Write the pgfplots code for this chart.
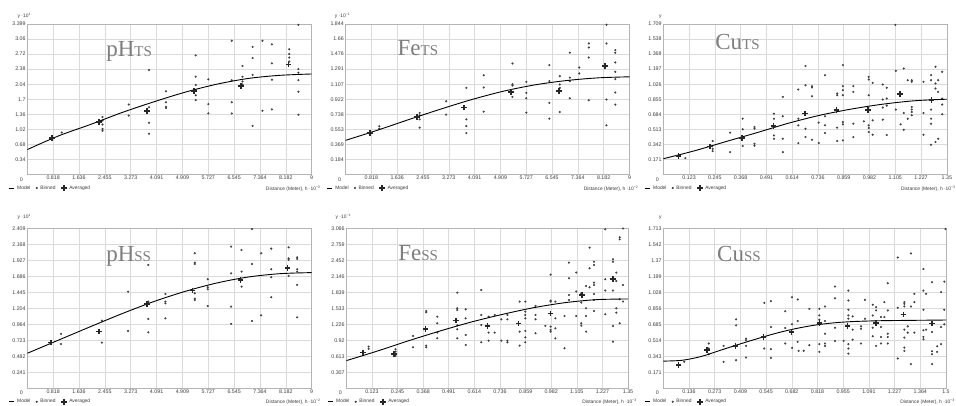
\documentclass[border=0pt]{standalone}
\usepackage{fontspec}
\setmainfont{Liberation Sans}
\newfontfamily\seriffont{Liberation Serif}
\usepackage{pgfplots}
\pgfplotsset{compat=1.18}
\definecolor{gridgray}{HTML}{DADADA}
\definecolor{bordergray}{HTML}{B4B4B4}
\definecolor{titlegray}{HTML}{7E7E7E}
\definecolor{labgray}{HTML}{3C3C3C}
\definecolor{dotgray}{HTML}{404040}
\pgfplotsset{
  panel/.style={
    scale only axis, anchor=south west,
    axis line style={draw=bordergray, line width=0.5pt},
    grid=major, major grid style={draw=gridgray, line width=0.5pt},
    major tick length=0pt,
    tick label style={font=\fontsize{5.3}{6}\selectfont, text=labgray},
    xticklabel style={inner sep=1pt, yshift=-0.6pt},
    yticklabel style={inner sep=1.5pt},
    clip mode=individual,
    xmin=0, ymin=0,
    legend columns=3,
    legend style={at={(axis description cs:0,0)}, anchor=west, xshift=-19pt, yshift=-13.5pt,
      draw=none, fill=none, inner sep=0pt, font=\fontsize{4.9}{5}\selectfont, text=labgray,
      /tikz/every even column/.append style={column sep=4.5pt},
      /tikz/every odd column/.append style={column sep=2pt}, nodes={inner sep=0.8pt}},
    legend cell align=left,
  },
  modelst/.style={line width=0.9pt, color=black, no markers, smooth,
    legend image code/.code={\draw[##1] (0pt,0pt)--(5pt,0pt);}},
  binst/.style={only marks, mark=*, mark size=0.85pt, color=dotgray,
    legend image code/.code={\draw[##1] plot coordinates {(1.5pt,0pt)};}},
  avgst/.style={only marks, mark=+, mark size=2.8pt, line width=1.6pt, color=black!85,
    legend image code/.code={\draw[##1] plot coordinates {(3pt,0pt)};}},
  x9/.style={xmax=9, xtick={0.81818,1.63636,2.45455,3.27273,4.09091,4.90909,5.72727,6.54545,7.36364,8.18182,9},
    xticklabels={0.818,1.636,2.455,3.273,4.091,4.909,5.727,6.545,7.364,8.182,9}},
  x135/.style={xmax=1.35, xtick={0.12273,0.24545,0.36818,0.49091,0.61364,0.73636,0.85909,0.98182,1.10455,1.22727,1.35},
    xticklabels={0.123,0.245,0.368,0.491,0.614,0.736,0.859,0.982,1.105,1.227,1.35}},
  x15/.style={xmax=1.5, xtick={0.13636,0.27273,0.40909,0.54545,0.68182,0.81818,0.95455,1.09091,1.22727,1.36364,1.5},
    xticklabels={0.136,0.273,0.409,0.545,0.682,0.818,0.955,1.091,1.227,1.364,1.5}},
}
% #1 y label, #2 y label shift, #3 title, #4 subscript, #5 relx, #6 rely, #7 exponent
\newcommand\extras[7]{%
  \addlegendimage{modelst}\addlegendentry{Model}
  \addlegendimage{binst}\addlegendentry{Binned}
  \addlegendimage{avgst}\addlegendentry{Averaged}
  \node[anchor=south, font=\fontsize{4.9}{5}\selectfont, text=labgray, inner sep=0pt] at (rel axis cs:0,1) [xshift=-3pt, yshift=#2] {#1};
  \node[anchor=base west, inner sep=0pt, text=titlegray] at (rel axis cs:#5,#6) {\seriffont\fontsize{23}{23}\selectfont #3{\fontsize{15}{15}\selectfont #4}};
  \node[anchor=north east, font=\fontsize{5.3}{6}\selectfont, text=labgray, inner sep=0pt] at (rel axis cs:0,0) [xshift=-4.2pt, yshift=-2.7pt] {0};
  \node[anchor=east, font=\fontsize{4.9}{5}\selectfont, text=labgray, inner sep=0pt] at (rel axis cs:1,0) [xshift=9pt, yshift=-14pt] {Distance (Meter), h ·10\textsuperscript{−#7}};
}
\begin{document}
\begin{tikzpicture}
\useasboundingbox (0pt,0pt) rectangle (956pt,406pt);
% ---------- pH TS ----------
\begin{axis}[panel, x9, at={(27.3pt,231.5pt)}, width=284.4pt, height=150.5pt, ymax=3.399,
  ytick={0.3399,0.6798,1.0197,1.3596,1.6995,2.0394,2.3793,2.7192,3.0591,3.399},
  yticklabels={0.34,0.68,1.02,1.36,1.7,2.04,2.38,2.72,3.06,3.399}]
\extras{y ·10\textsuperscript{1}}{5pt}{pH}{TS}{0.277}{0.782}{2}
\addplot[binst, forget plot] coordinates {
(0.79,0.83)(1.09,0.95)
(2.38,1.30)(2.38,1.22)(2.38,1.13)(2.38,1.03)(2.38,0.99)
(3.21,1.58)(3.21,1.33)
(3.85,2.36)(3.85,1.52)(3.85,1.17)(3.85,0.92)
(4.39,1.88)(4.39,1.63)(4.39,1.53)(4.39,1.50)
(5.33,2.69)(5.33,2.21)(5.33,2.02)(5.33,1.91)(5.33,1.79)(5.33,1.68)
(5.73,2.15)(5.73,1.59)(5.73,1.38)
(6.47,3.02)(6.47,2.13)(6.47,1.63)(6.47,1.38)
(6.81,2.45)(6.81,2.21)(6.81,2.10)(6.81,2.03)
(7.13,2.88)(7.13,2.63)(7.13,2.25)(7.13,1.10)
(7.44,3.02)(7.44,1.44)
(7.74,2.94)(7.74,2.51)(7.74,2.14)(7.74,1.47)
(8.29,2.83)(8.29,2.72)(8.29,2.64)(8.29,2.55)
(8.58,3.38)(8.58,2.38)(8.58,2.30)(8.58,2.13)(8.58,1.87)(8.58,1.35)};
\addplot[modelst, forget plot] coordinates {(0,0.563)(1,0.875)(2,1.13)(3,1.40)(4,1.64)(5,1.86)(6,2.04)(7,2.17)(8,2.24)(9,2.27)};
\addplot[avgst, forget plot] coordinates {(0.79,0.83)(2.27,1.19)(3.78,1.44)(5.28,1.89)(6.77,2.00)(8.27,2.48)};
\end{axis}
% ---------- Fe TS ----------
\begin{axis}[panel, x9, at={(345.5pt,231.5pt)}, width=284pt, height=150.5pt, ymax=1.844,
  ytick={0.1844,0.3688,0.5532,0.7376,0.922,1.1064,1.2908,1.4752,1.6596,1.844},
  yticklabels={0.184,0.369,0.553,0.738,0.922,1.107,1.291,1.476,1.66,1.844}]
\extras{y ·10\textsuperscript{−1}}{5pt}{Fe}{TS}{0.183}{0.793}{2}
\addplot[binst, forget plot] coordinates {
(1.07,0.59)(1.07,0.56)
(2.35,0.754)(2.35,0.725)(2.35,0.676)(2.35,0.574)
(3.19,0.897)(3.19,0.734)
(3.83,1.061)(3.83,0.676)(3.83,0.594)(3.83,0.508)
(4.38,1.217)(4.38,1.065)(4.38,0.770)
(5.29,1.360)(5.29,1.106)(5.29,1.09)(5.29,0.951)
(5.73,1.135)(5.73,1.000)(5.73,0.934)(5.73,0.758)
(6.46,1.340)(6.46,1.143)(6.46,0.877)(6.46,0.684)
(6.79,1.205)(6.79,1.102)(6.79,1.061)(6.79,0.766)
(7.11,1.492)(7.11,1.188)(7.11,1.143)(7.11,0.934)
(7.41,1.311)(7.41,1.238)
(7.71,1.606)(7.71,1.557)(7.71,1.434)(7.71,0.910)
(8.27,1.835)(8.27,1.606)(8.27,0.918)(8.27,0.602)
(8.55,1.524)(8.55,1.492)(8.55,1.373)(8.55,1.258)(8.55,1.168)(8.55,1.004)(8.55,0.856)};
\addplot[modelst, forget plot] coordinates {(0,0.418)(1,0.541)(2,0.672)(3,0.799)(4,0.918)(5,1.020)(6,1.098)(7,1.151)(8,1.184)(9,1.197)};
\addplot[avgst, forget plot] coordinates {(0.77,0.508)(2.27,0.705)(3.76,0.820)(5.25,1.008)(6.76,1.025)(8.23,1.332)};
\end{axis}
% ---------- Cu TS ----------
\begin{axis}[panel, x135, at={(663.3pt,231.5pt)}, width=283.5pt, height=150.5pt, ymax=1.709,
  ytick={0.1709,0.3418,0.5127,0.6836,0.8545,1.0254,1.1963,1.3672,1.5381,1.709},
  yticklabels={0.171,0.342,0.513,0.684,0.855,1.026,1.197,1.368,1.538,1.709}]
\extras{y}{5pt}{Cu}{TS}{0.183}{0.831}{3}
\addplot[binst, forget plot] coordinates {
(0.105,0.186)
(0.235,0.380)(0.235,0.292)(0.235,0.266)
(0.318,0.475)(0.318,0.254)
(0.378,0.634)(0.378,0.513)(0.378,0.323)
(0.434,0.539)(0.434,0.520)(0.434,0.349)(0.434,0.327)
(0.527,0.691)(0.527,0.634)(0.527,0.444)(0.527,0.406)
(0.569,0.881)(0.569,0.661)(0.569,0.406)(0.569,0.254)
(0.643,0.965)(0.643,0.634)(0.643,0.558)(0.643,0.357)
(0.677,1.231)(0.677,1.014)(0.677,0.520)(0.677,0.425)
(0.708,1.003)(0.708,0.987)(0.708,0.889)(0.708,0.395)
(0.740,0.589)(0.740,0.357)
(0.770,1.128)(0.770,0.661)(0.770,0.558)(0.770,0.471)
(0.828,0.919)(0.828,0.900)(0.828,0.532)(0.828,0.380)
(0.855,1.242)(0.855,1.003)(0.855,0.957)(0.855,0.900)(0.855,0.596)(0.855,0.570)(0.855,0.387)
(0.905,1.003)(0.905,0.938)(0.905,0.577)(0.905,0.425)
(0.955,0.604)
(0.978,1.109)(0.978,1.079)(0.978,0.900)(0.978,0.558)(0.978,0.528)(0.978,0.482)
(0.997,1.041)(0.997,0.615)(0.997,0.452)
(1.045,1.022)(1.045,0.851)(1.045,0.760)(1.045,0.623)
(1.064,0.984)(1.064,0.862)(1.064,0.782)(1.064,0.448)
(1.107,1.177)(1.107,0.737)(1.105,1.700)
(1.130,0.570)
(1.145,1.204)(1.145,0.699)(1.145,0.509)
(1.164,1.071)(1.164,0.634)
(1.183,1.071)(1.183,1.052)(1.183,0.767)(1.183,0.737)(1.183,0.710)(1.183,0.672)
(1.239,1.052)(1.239,0.699)(1.239,0.452)
(1.275,1.128)(1.275,1.071)(1.275,0.737)(1.275,0.634)(1.275,0.577)(1.275,0.338)
(1.296,1.223)(1.296,1.033)(1.296,0.976)(1.296,0.368)
(1.309,1.071)(1.309,0.938)(1.309,0.406)
(1.328,1.166)(1.328,0.862)(1.328,0.794)(1.328,0.684)};
\addplot[modelst, forget plot] coordinates {(0,0.179)(0.15,0.270)(0.3,0.375)(0.45,0.478)(0.6,0.585)(0.75,0.675)(0.9,0.745)(1.05,0.800)(1.2,0.838)(1.35,0.855)};
\addplot[avgst, forget plot] coordinates {(0.073,0.209)(0.222,0.319)(0.375,0.414)(0.524,0.551)(0.675,0.691)(0.824,0.729)(0.975,0.729)(1.128,0.912)(1.277,0.843)};
\end{axis}
% ---------- pH SS ----------
\begin{axis}[panel, x9, at={(27.3pt,17.7pt)}, width=284.4pt, height=160pt, ymax=2.409,
  ytick={0.2409,0.4818,0.7227,0.9636,1.2045,1.4454,1.6863,1.9272,2.1681,2.409},
  yticklabels={0.241,0.482,0.723,0.964,1.204,1.445,1.686,1.927,2.168,2.409}]
\extras{y ·10\textsuperscript{1}}{9pt}{pH}{SS}{0.277}{0.791}{2}
\addplot[binst, forget plot] coordinates {
(1.07,0.818)(1.07,0.667)
(2.36,1.019)(2.36,0.688)
(3.19,1.455)(3.19,0.863)
(3.83,1.857)(3.83,1.305)(3.83,1.280)(3.83,1.044)(3.83,0.843)
(4.37,1.420)(4.37,1.305)(4.37,1.280)(4.37,1.054)
(5.30,2.033)(5.30,1.892)(5.30,1.872)(5.30,1.430)(5.30,1.350)(5.30,1.330)
(5.71,1.641)(5.71,1.521)(5.71,1.491)(5.71,1.240)
(6.45,2.133)(6.45,1.731)(6.45,1.230)(6.45,0.969)
(6.78,2.083)(6.78,1.757)(6.78,1.531)
(7.11,2.400)(7.11,1.872)(7.11,1.014)
(7.40,2.033)(7.40,1.099)
(7.72,2.103)(7.72,1.792)(7.72,1.671)(7.72,1.370)
(8.27,2.123)(8.27,1.957)(8.27,1.932)(8.27,1.691)
(8.54,1.972)(8.54,1.947)(8.54,1.792)(8.54,1.757)(8.54,1.556)(8.54,1.069)};
\addplot[modelst, forget plot] coordinates {(0,0.527)(1,0.728)(2,0.928)(3,1.124)(4,1.305)(5,1.460)(6,1.586)(7,1.676)(8,1.726)(9,1.742)};
\addplot[avgst, forget plot] coordinates {(0.75,0.688)(2.26,0.853)(3.78,1.270)(5.23,1.470)(6.75,1.631)(8.23,1.807)};
\end{axis}
% ---------- Fe SS ----------
\begin{axis}[panel, x135, at={(346.3pt,17.7pt)}, width=281.7pt, height=160pt, ymax=3.066,
  ytick={0.3066,0.6132,0.9198,1.2264,1.533,1.8396,2.1462,2.4528,2.7594,3.066},
  yticklabels={0.307,0.613,0.92,1.226,1.533,1.839,2.146,2.452,2.759,3.066}]
\extras{y ·10\textsuperscript{−1}}{9pt}{Fe}{SS}{0.184}{0.80}{3}
\addplot[binst, forget plot] coordinates {
(0.107,0.80)(0.107,0.754)
(0.236,0.747)(0.236,0.703)(0.236,0.620)
(0.320,1.003)(0.320,0.786)
(0.383,1.482)(0.383,1.456)(0.383,0.818)(0.383,0.786)
(0.436,1.373)(0.436,1.246)(0.436,1.067)(0.436,0.958)
(0.532,1.833)(0.532,1.533)(0.532,1.501)(0.532,1.207)(0.532,1.131)(0.532,0.958)
(0.572,1.514)(0.572,1.341)(0.572,1.022)(0.572,0.830)
(0.647,1.884)(0.647,1.405)(0.647,1.214)(0.647,0.882)
(0.682,1.373)(0.682,1.067)(0.682,0.913)
(0.711,1.405)(0.711,1.067)
(0.743,1.322)(0.743,0.913)
(0.772,1.405)(0.772,1.322)(0.772,0.913)(0.772,0.882)
(0.831,1.661)(0.831,1.086)(0.831,0.818)
(0.858,1.661)(0.858,1.469)(0.858,1.405)(0.858,1.341)(0.858,1.099)(0.858,0.977)(0.858,0.882)
(0.907,1.578)(0.907,1.405)(0.907,1.322)(0.907,1.054)
(0.954,1.195)
(0.979,2.178)(0.979,1.680)(0.979,1.661)(0.979,1.182)(0.979,1.118)(0.979,1.086)
(1.002,1.661)(1.002,1.341)(1.002,1.150)(1.002,0.958)
(1.046,1.386)(1.046,0.767)
(1.067,2.408)(1.067,2.108)(1.067,1.789)(1.067,1.693)
(1.102,2.217)(1.102,1.853)(1.102,1.386)
(1.126,1.821)(1.126,1.642)(1.126,1.246)(1.126,1.201)
(1.149,1.961)(1.149,1.533)(1.149,1.386)(1.149,1.086)
(1.166,2.696)(1.166,2.300)(1.166,1.936)
(1.187,2.427)(1.187,2.364)(1.187,2.025)(1.187,1.980)(1.187,1.808)(1.187,1.693)(1.187,1.482)
(1.241,3.047)(1.241,2.089)(1.241,1.872)(1.241,1.418)
(1.278,2.472)(1.278,2.427)(1.278,1.872)(1.278,1.195)(1.278,0.894)
(1.294,2.217)(1.294,2.057)(1.294,1.533)(1.294,1.450)
(1.310,2.894)(1.310,2.855)(1.310,1.706)(1.310,1.246)
(1.326,3.060)(1.326,1.980)(1.326,1.661)};
\addplot[modelst, forget plot] coordinates {(0,0.530)(0.15,0.715)(0.3,0.913)(0.45,1.099)(0.6,1.271)(0.75,1.418)(0.9,1.546)(1.05,1.642)(1.2,1.699)(1.35,1.712)};
\addplot[avgst, forget plot] coordinates {(0.080,0.684)(0.228,0.658)(0.379,1.131)(0.527,1.297)(0.676,1.195)(0.826,1.239)(0.978,1.431)(1.130,1.789)(1.278,2.095)};
\end{axis}
% ---------- Cu SS ----------
\begin{axis}[panel, x15, at={(663.3pt,17.7pt)}, width=282.7pt, height=160pt, ymax=1.713,
  ytick={0.1713,0.3426,0.5139,0.6852,0.8565,1.0278,1.1991,1.3704,1.5417,1.713},
  yticklabels={0.171,0.343,0.514,0.685,0.856,1.028,1.199,1.37,1.542,1.713}]
\extras{y}{9pt}{Cu}{SS}{0.19}{0.795}{3}
\addplot[binst, forget plot] coordinates {
(0.111,0.284)
(0.241,0.479)(0.241,0.426)(0.241,0.365)
(0.320,0.454)(0.320,0.284)
(0.386,0.738)(0.386,0.674)(0.386,0.301)
(0.439,0.532)(0.439,0.514)(0.439,0.454)(0.439,0.330)
(0.536,0.915)(0.536,0.426)
(0.571,0.933)(0.571,0.656)(0.571,0.419)(0.571,0.326)
(0.647,0.826)(0.647,0.646)(0.647,0.479)
(0.683,0.975)(0.683,0.685)(0.683,0.433)
(0.713,0.951)(0.713,0.720)(0.713,0.497)
(0.718,0.401)(0.745,0.401)
(0.775,0.851)(0.775,0.461)
(0.828,0.851)(0.828,0.780)(0.828,0.734)(0.828,0.472)(0.828,0.390)
(0.858,0.876)(0.858,0.720)(0.858,0.585)(0.858,0.479)(0.858,0.454)
(0.911,1.089)(0.911,0.965)(0.911,0.649)(0.911,0.507)
(0.957,0.507)
(0.982,1.046)(0.982,0.940)(0.982,0.841)(0.982,0.780)(0.982,0.745)(0.982,0.472)(0.982,0.426)(0.982,0.372)
(1.005,0.770)(1.005,0.628)(1.005,0.521)
(1.049,0.663)(1.049,0.638)(1.049,0.479)
(1.070,0.947)(1.070,0.745)
(1.111,0.894)(1.111,0.780)(1.111,0.649)(1.111,0.557)
(1.129,0.869)(1.129,0.834)(1.129,0.454)
(1.155,0.763)(1.155,0.656)(1.155,0.550)(1.155,0.479)
(1.173,0.922)(1.173,0.763)
(1.191,1.124)(1.191,0.834)(1.191,0.585)(1.191,0.550)(1.191,0.479)
(1.244,1.401)(1.244,0.862)(1.244,0.319)
(1.279,0.922)(1.279,0.904)(1.279,0.876)(1.279,0.628)(1.279,0.543)(1.279,0.436)(1.279,0.401)
(1.297,0.663)(1.297,0.596)
(1.314,1.444)(1.314,0.876)(1.314,0.259)
(1.332,1.011)(1.332,0.922)(1.332,0.596)
(1.380,1.277)(1.380,1.046)(1.380,0.841)(1.380,0.621)(1.380,0.550)(1.380,0.525)
(1.394,1.011)(1.394,0.628)
(1.426,1.135)(1.426,0.603)(1.426,0.397)(1.426,0.365)(1.426,0.259)
(1.453,0.390)(1.453,0.450)
(1.474,1.029)(1.474,0.656)(1.474,0.472)
(1.491,1.142)(1.491,0.841)(1.491,0.685)
(1.497,1.705)};
\addplot[modelst, forget plot] coordinates {(0,0.291)(0.1,0.300)(0.2,0.340)(0.3,0.405)(0.4,0.470)(0.5,0.532)(0.6,0.590)(0.7,0.638)(0.8,0.675)(0.9,0.700)(1.0,0.714)(1.1,0.721)(1.2,0.725)(1.5,0.731)};
\addplot[avgst, forget plot] coordinates {(0.081,0.248)(0.232,0.408)(0.382,0.454)(0.532,0.550)(0.681,0.603)(0.828,0.699)(0.978,0.667)(1.129,0.699)(1.275,0.791)(1.426,0.692)};
\end{axis}
\end{tikzpicture}
\end{document}
